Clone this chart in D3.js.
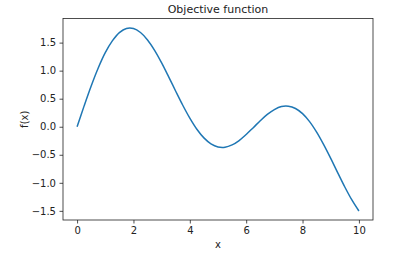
<!DOCTYPE html>
<html><head><meta charset="utf-8">
<script src="https://cdn.jsdelivr.net/npm/d3@7"></script>
<style>body{margin:0;background:#fff}svg{display:block}text{font-family:"DejaVu Sans",sans-serif;fill:#222}</style>
</head><body>
<script>
const xs = [0,0.25,0.5,0.75,1,1.25,1.5,1.75,2,2.25,2.5,2.75,3,3.25,3.5,3.75,4,4.25,4.5,4.75,5,5.25,5.5,5.75,6,6.25,6.5,6.75,7,7.25,7.5,7.75,8,8.25,8.5,8.75,9,9.25,9.5,9.75,10];
const ys = [0,0.372,0.727,1.048,1.321,1.530,1.679,1.752,1.751,1.680,1.548,1.363,1.139,0.890,0.633,0.383,0.153,-0.045,-0.199,-0.305,-0.360,-0.365,-0.324,-0.246,-0.138,-0.017,0.107,0.219,0.306,0.360,0.366,0.325,0.233,0.091,-0.097,-0.320,-0.565,-0.822,-1.075,-1.306,-1.503];
const xTicks = [0,2,4,6,8,10];
const yTicks = [-1.5,-1.0,-0.5,0.0,0.5,1.0,1.5];
const title = "Objective function", xLabel = "x", yLabel = "f(x)";

const W=394,H=256, L=63, R=373, T=18.5, B=220;
const svg=d3.select("body").append("svg").attr("width",W).attr("height",H);
const x=d3.scaleLinear().domain([-0.5,10.5]).range([L,R]);
const y=d3.scaleLinear().domain([-1.663,1.93]).range([B,T]);
const fmtY = d => d3.format(".1f")(d).replace("-","\u2212");
const gx=svg.append("g").attr("transform",`translate(0,${B})`)
  .call(d3.axisBottom(x).tickValues(xTicks).tickSize(3.5).tickPadding(3.5).tickFormat(d3.format("d")));
const gy=svg.append("g").attr("transform",`translate(${L},0)`)
  .call(d3.axisLeft(y).tickValues(yTicks).tickSize(3.5).tickPadding(3.5).tickFormat(fmtY));
[gx,gy].forEach(g=>{g.select(".domain").remove();g.selectAll("text").attr("font-size",10).attr("font-family","DejaVu Sans").attr("fill","#222");g.selectAll("line").attr("stroke","#222").attr("stroke-width",0.8);});
svg.append("rect").attr("x",L).attr("y",T).attr("width",R-L).attr("height",B-T).attr("fill","none").attr("stroke","#222").attr("stroke-width",0.8);
const pts = xs.map((v,i)=>[v,ys[i]]);
svg.append("path").datum(pts).attr("fill","none").attr("stroke","#1f77b4").attr("stroke-width",1.5)
  .attr("d",d3.line().x(d=>x(d[0])).y(d=>y(d[1])).curve(d3.curveCatmullRom));
svg.append("text").attr("x",(L+R)/2).attr("y",13).attr("text-anchor","middle").attr("font-size",11).text(title);
svg.append("text").attr("x",(L+R)/2).attr("y",248).attr("text-anchor","middle").attr("font-size",10).text(xLabel);
svg.append("text").attr("transform",`translate(28,${(T+B)/2}) rotate(-90)`).attr("text-anchor","middle").attr("font-size",10).text(yLabel);
</script>
</body></html>
